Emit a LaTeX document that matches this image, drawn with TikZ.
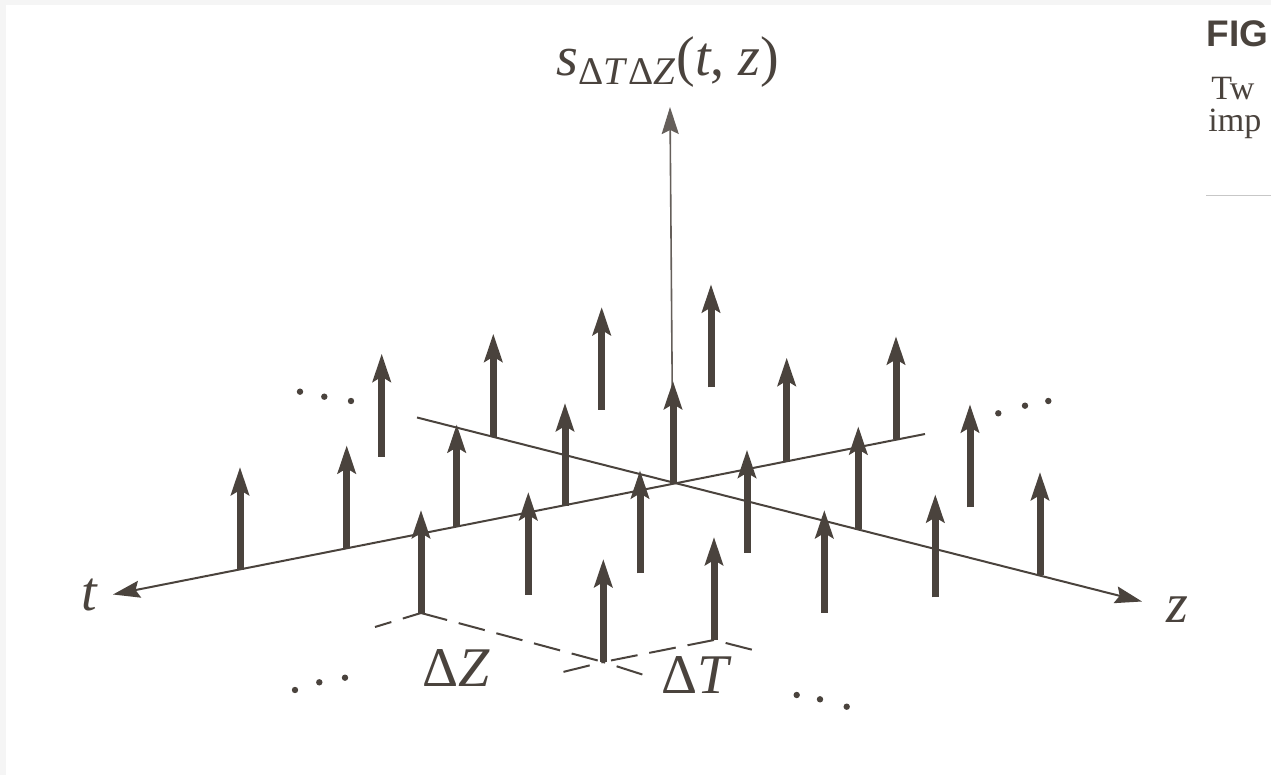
\documentclass[tikz,border=0pt]{standalone}
\usepackage{fontspec}
\setmainfont{Liberation Serif}
\newfontfamily\capsans{Liberation Sans}
\usetikzlibrary{arrows.meta}
\definecolor{ink}{RGB}{74,67,61}
\begin{document}
\begin{tikzpicture}[x=0.5pt,y=-0.5pt,
  impulse/.style={ink,line width=3.5pt,-{Stealth[length=14pt,width=9pt,inset=2.5pt]}},
  axis/.style={ink,line width=1pt,-{Stealth[length=13.5pt,width=8.5pt,inset=2pt]}},
  vaxis/.style={ink!85,line width=0.8pt,-{Stealth[length=13.5pt,width=8.5pt,inset=2pt]}},
  gridline/.style={ink,line width=1pt,dash pattern=on 13.5pt off 6pt},
  lbl/.style={text=ink,inner sep=0pt,font=\fontsize{28}{32}\selectfont},
  dot/.style={fill=ink,circle,inner sep=0pt,minimum size=3.2pt},
  captxt/.style={anchor=base west,inner sep=0pt,text=ink}
]
\useasboundingbox (0,0) rectangle (1271,775);
\fill[white] (0,0) rectangle (1271,775);
\fill[black!4] (0,0) rectangle (6,775);
\fill[black!4] (0,0) rectangle (1271,5);

% lattice points (bases of the impulses)
\foreach \n/\x/\y in {
  p40/240/570, p30/346.7/548.3, p20/456.7/527.3, p10/565/506, p00/673/484,
  pm10/786.7/460.7, pm20/896/439.3,
  p1m1/381.7/456.7, p0m1/493.3/436.7, pm1m1/601.7/410, pm2m1/711/387.3,
  p41/421/613, p31/528.3/595, p21/640/573.3, p11/747/552.7, p01/858.3/529.3, pm11/970/507.3,
  p42/603.3/662, p32/714/640, p22/824.3/613, p12/935.3/597.3, p02/1040/575}
  {\coordinate (\n) at (\x,\y);}

% axes
\coordinate (tEnd) at (925,434);
\coordinate (tTip) at (113,594.5);
\coordinate (zEnd) at (417,417.5);
\coordinate (zTip) at (1142,601.5);
\coordinate (vTip) at (670,107);
\draw[axis] (tEnd) -- (tTip);
\draw[axis] (zEnd) -- (zTip);
\draw[vaxis] (p00) -- (vTip);

% dashed spacing marks
\coordinate (g1) at (375,627);
\coordinate (g2) at (647,676);
\coordinate (g3) at (555,674);
\coordinate (g4) at (757,651);
\draw[gridline] (p41) -- (p42);
\draw[gridline,dash phase=4pt] (p41) -- (g1);
\draw[gridline,dash phase=-7pt] (p42) -- (g2);
\draw[gridline] (p32) -- (p42);
\draw[gridline,dash phase=-7pt] (p42) -- (g3);
\draw[gridline,dash phase=-6pt] (p32) -- (g4);

% impulses
\foreach \n in {pm2m1,pm1m1,p0m1,p1m1,pm20,pm10,p00,p10,p20,p30,p40,
                pm11,p01,p11,p21,p31,p41,p02,p12,p22,p32,p42}
  {\draw[impulse] (\n) -- ++(0,-103);}

% labels
\node[lbl] (slabel) at (668,62) {\textit{s}\textsubscript{Δ\textit{T}Δ\textit{Z}}(\textit{t}, \textit{z})};
\node[lbl] (tlabel) at (90,595) {\textit{t}};
\node[lbl] (zlabel) at (1177,610) {\textit{z}};
\node[lbl] (dZ) at (456.5,668.5) {Δ\textit{Z}};
\node[lbl] (dT) at (696.7,675) {Δ\textit{T}};

% ellipsis dots
\node[dot] (ul1) at (300,391.7) {};
\node[dot] (ul2) at (324.3,396.7) {};
\node[dot] (ul3) at (351,401) {};
\node[dot] (ur1) at (998.3,413.3) {};
\node[dot] (ur2) at (1025,405.7) {};
\node[dot] (ur3) at (1048.3,401) {};
\node[dot] (ll1) at (295,690) {};
\node[dot] (ll2) at (319.3,682.3) {};
\node[dot] (ll3) at (345,677.7) {};
\node[dot] (lr1) at (796.7,695) {};
\node[dot] (lr2) at (820,699.3) {};
\node[dot] (lr3) at (846.7,706.7) {};

% clipped caption at the right edge
\node[captxt,font=\capsans\bfseries\fontsize{18.5}{22}\selectfont] (fig) at (1206,47) {FIG};
\node[captxt,font=\fontsize{17}{20}\selectfont] (tw) at (1211,100) {Tw};
\node[captxt,font=\fontsize{17}{20}\selectfont] (imp) at (1208,132) {imp};
\coordinate (ruleA) at (1206,196);
\coordinate (ruleB) at (1271,196);
\draw[black!22,line width=0.5pt] (ruleA) -- (ruleB);
\end{tikzpicture}
\end{document}
